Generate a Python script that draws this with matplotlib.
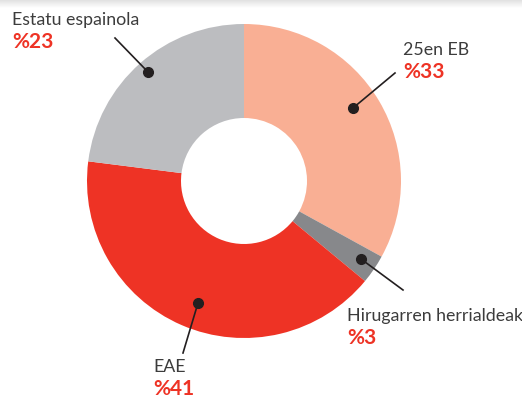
import matplotlib.pyplot as plt
import numpy as np

labels = ["25en EB", "Hirugarren herrialdeak", "EAE", "Estatu espainola"]
values = [33, 3, 41, 23]
pct_labels = ["%33", "%3", "%41", "%23"]
colors = ["#f9af94", "#87888b", "#ee3325", "#bcbdc0"]

# dot position, line end, label anchor (pixel coords, y down)
dots = [(353, 108), (361, 259), (198, 303), (148, 72)]
ends = [(395, 73), (403, 290), (183, 353), (115, 38)]
texts = [(403, 50), (347, 316), (153, 367), (12, 20)]

W, H = 522, 400
fig = plt.figure(figsize=(W / 100, H / 100), dpi=100)
ax = fig.add_axes([0, 0, 1, 1])

# faint shadow at the top edge
grad = np.linspace(0.88, 1.0, 50).reshape(-1, 1)
ax.imshow(grad, cmap="gray", vmin=0, vmax=1, extent=(0, W, H - 8, H),
          aspect="auto", zorder=0)

cx, cy, r = 244, H - 181, 157
ax.pie(values, colors=colors, startangle=90, counterclock=False,
       center=(cx, cy), radius=r, frame=True,
       wedgeprops=dict(width=r - 63, linewidth=0))
ax.set_xlim(0, W)
ax.set_ylim(0, H)
ax.set_aspect("auto")
ax.axis("off")

for lab, pct, d, e, t in zip(labels, pct_labels, dots, ends, texts):
    ax.plot([d[0], e[0]], [H - d[1], H - e[1]], color="#231f20", lw=1.2)
    ax.plot(d[0], H - d[1], "o", color="#231f20", ms=7)
    ax.text(t[0], H - t[1], lab, fontsize=12.8, family="Lato", color="#3c3c3c",
            va="center", ha="left")
    ax.text(t[0], H - t[1] - 22, pct, fontsize=15, family="Lato", weight="bold",
            color="#ee3325", va="center", ha="left")

fig.savefig("out.png", dpi=100)
